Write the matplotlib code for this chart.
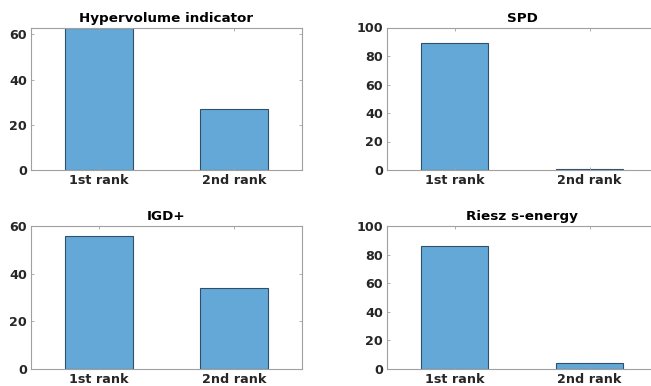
import matplotlib
matplotlib.use("Agg")
import matplotlib.pyplot as plt

categories = ["1st rank", "2nd rank"]
titles = ["Hypervolume indicator", "SPD", "IGD+", "Riesz s-energy"]
hv = [63, 27]
spd = [89, 1]
igd = [56, 34]
riesz = [86, 4]
values = [hv, spd, igd, riesz]
ylims = [63, 100, 60, 100]
yticks = [[0, 20, 40, 60], [0, 20, 40, 60, 80, 100], [0, 20, 40, 60], [0, 20, 40, 60, 80, 100]]

plt.rcParams['font.family'] = ['DejaVu Sans']
plt.rcParams['font.weight'] = 'bold'

fig = plt.figure(figsize=(6.51, 3.86), dpi=100)
W, H = 651, 386
rects = [(31, 27.5, 302, 170), (387, 27.5, 657, 170), (31, 226, 302, 369), (387, 226, 657, 369)]
bar_color = "#64A8D7"
edge = "#2F4F6A"
spine_c = "#A0A0A0"
text_c = "#262626"

for i, (x0, y0, x1, y1) in enumerate(rects):
    ax = fig.add_axes([x0 / W, 1 - y1 / H, (x1 - x0) / W, (y1 - y0) / H])
    ax.bar([1, 2], values[i], width=0.5, color=bar_color, edgecolor=edge, linewidth=0.8)
    ax.set_xlim(0.5, 2.5)
    ax.set_ylim(0, ylims[i])
    ax.set_xticks([1, 2])
    ax.set_xticklabels(categories, fontsize=9.2, fontweight='bold', color=text_c)
    ax.set_yticks(yticks[i])
    ax.set_yticklabels([str(t) for t in yticks[i]], fontsize=9.2, fontweight='bold', color=text_c)
    ax.set_title(titles[i], fontsize=9.7, fontweight='bold', color='black', pad=4)
    for s in ax.spines.values():
        s.set_color(spine_c)
        s.set_linewidth(0.8)
    ax.tick_params(direction='in', length=2.5, width=0.6, color=spine_c, top=True, right=True, pad=3)

fig.savefig("out.png", dpi=100)
